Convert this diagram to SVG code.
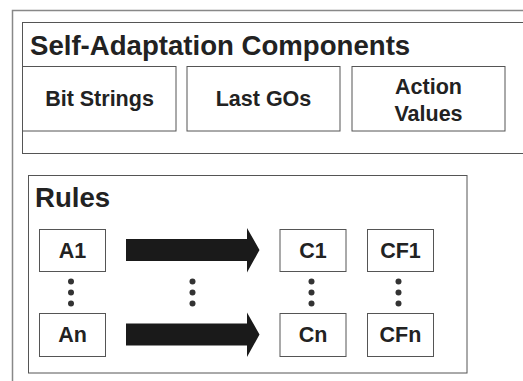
<svg xmlns="http://www.w3.org/2000/svg" width="523" height="381" viewBox="0 0 523 381">
<style>
.box{fill:#fff;stroke:#555;stroke-width:1}
.frame{fill:none;stroke:#888;stroke-width:1.5}
.t{font-family:"Liberation Sans",Arial,Helvetica,sans-serif;font-weight:bold;fill:#222;text-anchor:middle;font-size:21.5px}
.h{font-family:"Liberation Sans",Arial,Helvetica,sans-serif;font-weight:bold;fill:#222;font-size:27.6px}
.dot{fill:#333}
.arrow{fill:#1a1a1a}
</style>
<rect width="523" height="381" fill="#fff"/>
<path class="frame" d="M12.5,381 V10.5 H523"/>
<g id="self-adaptation">
<rect class="box" x="22.5" y="22.5" width="520" height="131" stroke="#777"/>
<text class="h" x="30" y="55">Self-Adaptation Components</text>
</g>
<g id="bit-strings"><rect class="box" x="22.5" y="66.5" width="153.5" height="64.5"/><text class="t" x="99.5" y="106">Bit Strings</text></g>
<g id="last-gos"><rect class="box" x="187" y="66.5" width="153" height="64.5"/><text class="t" x="263.5" y="106">Last GOs</text></g>
<g id="action-values"><rect class="box" x="352" y="66.5" width="153" height="64.5"/><text class="t" x="428.5" y="94">Action</text><text class="t" x="428.5" y="120.5">Values</text></g>
<g id="rules">
<rect class="box" x="28.5" y="175.5" width="438.5" height="197.5"/>
<text class="h" x="35" y="207">Rules</text>
</g>
<g id="A1"><rect class="box" x="39.5" y="229.5" width="66" height="42"/><text class="t" x="72.5" y="258">A1</text></g>
<g id="An"><rect class="box" x="39.5" y="313.5" width="66" height="43"/><text class="t" x="72.5" y="342">An</text></g>
<g id="C1"><rect class="box" x="280" y="229.5" width="66" height="42"/><text class="t" x="313" y="258">C1</text></g>
<g id="Cn"><rect class="box" x="280" y="313.5" width="66" height="43"/><text class="t" x="313" y="342">Cn</text></g>
<g id="CF1"><rect class="box" x="367.5" y="229.5" width="66" height="42"/><text class="t" x="400.5" y="258">CF1</text></g>
<g id="CFn"><rect class="box" x="367.5" y="313.5" width="66" height="43"/><text class="t" x="400.5" y="342">CFn</text></g>
<g id="connectors">
<polygon class="arrow" points="126,239 247,239 247,228 259.5,250 247,272.5 247,261 126,261"/>
<polygon class="arrow" points="126,323.5 247,323.5 247,312.5 259.5,334.5 247,357 247,345.5 126,345.5"/>
</g>
<g id="ellipses">
<circle class="dot" cx="71" cy="281.5" r="3"/><circle class="dot" cx="71" cy="292.5" r="3"/><circle class="dot" cx="71" cy="303.5" r="3"/>
<circle class="dot" cx="192.5" cy="281.5" r="3"/><circle class="dot" cx="192.5" cy="292.5" r="3"/><circle class="dot" cx="192.5" cy="303.5" r="3"/>
<circle class="dot" cx="311.5" cy="281.5" r="3"/><circle class="dot" cx="311.5" cy="292.5" r="3"/><circle class="dot" cx="311.5" cy="303.5" r="3"/>
<circle class="dot" cx="398.5" cy="281.5" r="3"/><circle class="dot" cx="398.5" cy="292.5" r="3"/><circle class="dot" cx="398.5" cy="303.5" r="3"/>
</g>
</svg>
